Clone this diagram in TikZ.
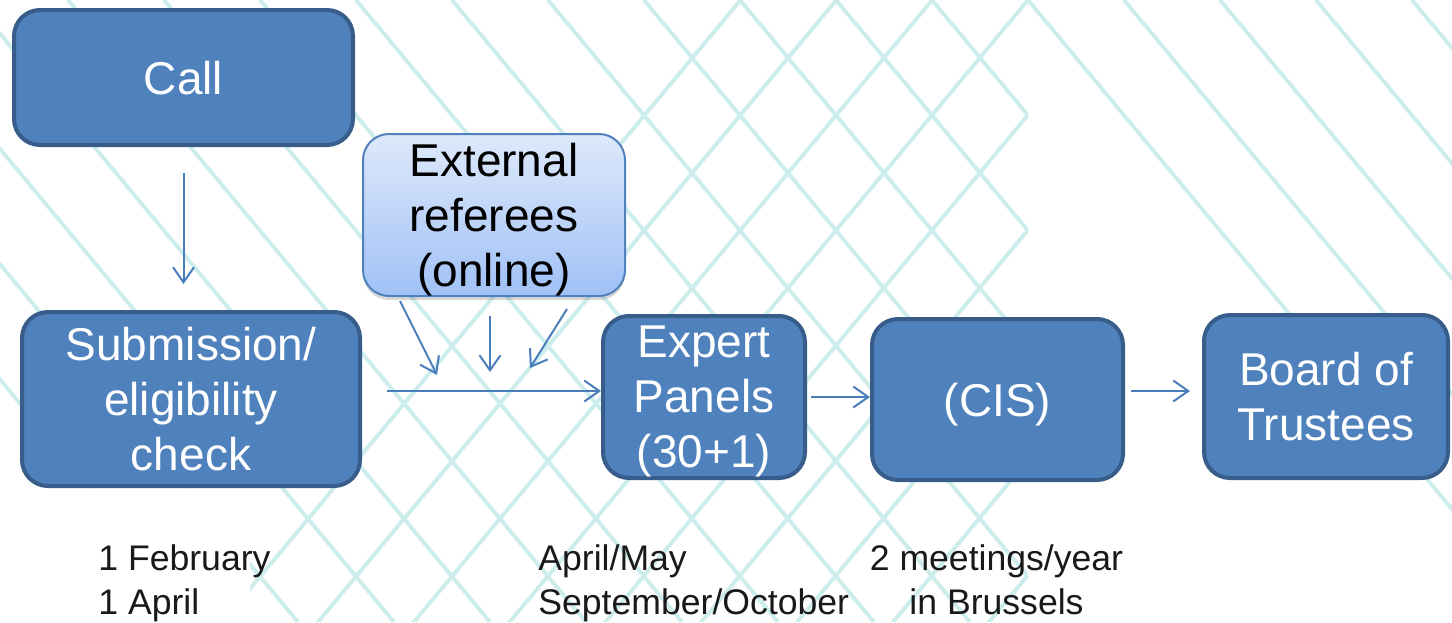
\documentclass[tikz,border=0pt]{standalone}
\usepackage{fontspec}
\setmainfont{Liberation Sans}
\usepackage{tikz}
\usetikzlibrary{arrows.meta,shadows}
\definecolor{boxblue}{RGB}{79,129,189}
\definecolor{boxedge}{RGB}{56,93,138}
\definecolor{lineblue}{RGB}{74,126,187}
\definecolor{gridcyan}{RGB}{204,237,236}
\definecolor{reftop}{RGB}{222,233,251}
\definecolor{refbottom}{RGB}{160,193,246}
\tikzset{
    basic/.style   = {draw, rectangle, align=center, inner sep=0pt, text depth=0pt},
    stage/.style   = {basic, boxedge, line width=2pt, fill=boxblue, text=white,
                      rounded corners=13pt, font=\fontsize{23}{27.5}\selectfont},
    referee/.style = {basic, boxblue, line width=1pt, top color=reftop, bottom color=refbottom,
                      text=black, rounded corners=13pt, font=\fontsize{23}{27.5}\selectfont,
                      drop shadow={shadow xshift=0pt, shadow yshift=-2pt, opacity=0.3}},
    datenote/.style = {inner sep=0pt, text=black!90, font=\fontsize{17.8}{22}\selectfont},
    bgline/.style  = {gridcyan, line width=2pt}
}
\begin{document}
\begin{tikzpicture}[x=0.5pt, y=-0.5pt,
    flow/.style={->, lineblue, line width=1pt},
    >={Straight Barb[length=7.5pt,width=10.5pt]}]
    \useasboundingbox (0,0) rectangle (1452,622);
    % lattice in the background
    \begin{scope}
        \clip (0,0) -- (1028,0) -- (1028,622) -- (250,622) -- (250,488) -- (0,488) -- cycle;
        \foreach \k in {1,...,16}
            \draw[bgline] ({1028-96*\k},0) -- ++(518,622);
        \foreach \k in {-3,...,5}
            \draw[bgline] (1028,{115*\k}) -- ++(-1000,1200);
    \end{scope}
    \begin{scope}
        \clip (1028,0) rectangle (1452,622);
        \foreach \x in {1028,1124,...,1412}
            \draw[bgline] (\x,0) -- ++(518,622);
    \end{scope}
    % stages
    \node[stage, minimum width=169.5pt, minimum height=67.5pt] (call) at (183.5,77.5) {Call};
    \node[stage, minimum width=169pt, minimum height=87pt] (sub) at (191,399) {Submission/\\eligibility\\check};
    \node[referee, minimum width=131pt, minimum height=81pt] (ext) at (494,215) {External\\referees\\(online)};
    \node[stage, minimum width=101pt, minimum height=81pt] (expert) at (704,397) {Expert\\Panels\\(30+1)};
    \node[stage, minimum width=125.5pt, minimum height=80.5pt] (cis) at (997.5,399.5) {(CIS)};
    \node[stage, minimum width=122pt, minimum height=81.5pt] (board) at (1326,396.5) {Board of\\Trustees};
    % dates
    \node[datenote, anchor=west, align=left] (callDates) at (98,583) {1 February\\1 April};
    \node[datenote, anchor=west, align=left] (panelDates) at (538,583) {April/May\\September/October};
    \node[datenote, align=center] (cisDates) at (996.5,580) {2 meetings/year\\in Brussels};
    % arrows
    \coordinate (join) at (490,391);
    \coordinate (in1) at (437,375);
    \coordinate (in2) at (490,372);
    \coordinate (in3) at (530,368);
    \coordinate (vote) at (1160,391);
    \draw[flow, shorten <=13pt, shorten >=13pt] (call.south) -- (call.south |- sub.north);
    \draw[flow, shorten <=12.5pt] (sub.east |- join) -- (expert.west |- join);
    \draw[flow] ([xshift=-47pt,yshift=-2pt]ext.south) -- (in1);
    \draw[flow] ([xshift=-2pt,yshift=-9.5pt]ext.south) -- (in2);
    \draw[flow] ([xshift=36.5pt,yshift=-6pt]ext.south) -- (in3);
    \draw[flow, shorten <=2pt] (expert.east) -- (cis.west |- expert.east);
    \draw[flow, shorten <=3pt, shorten >=6pt] (cis.east |- vote) -- (board.west |- vote);
\end{tikzpicture}
\end{document}
